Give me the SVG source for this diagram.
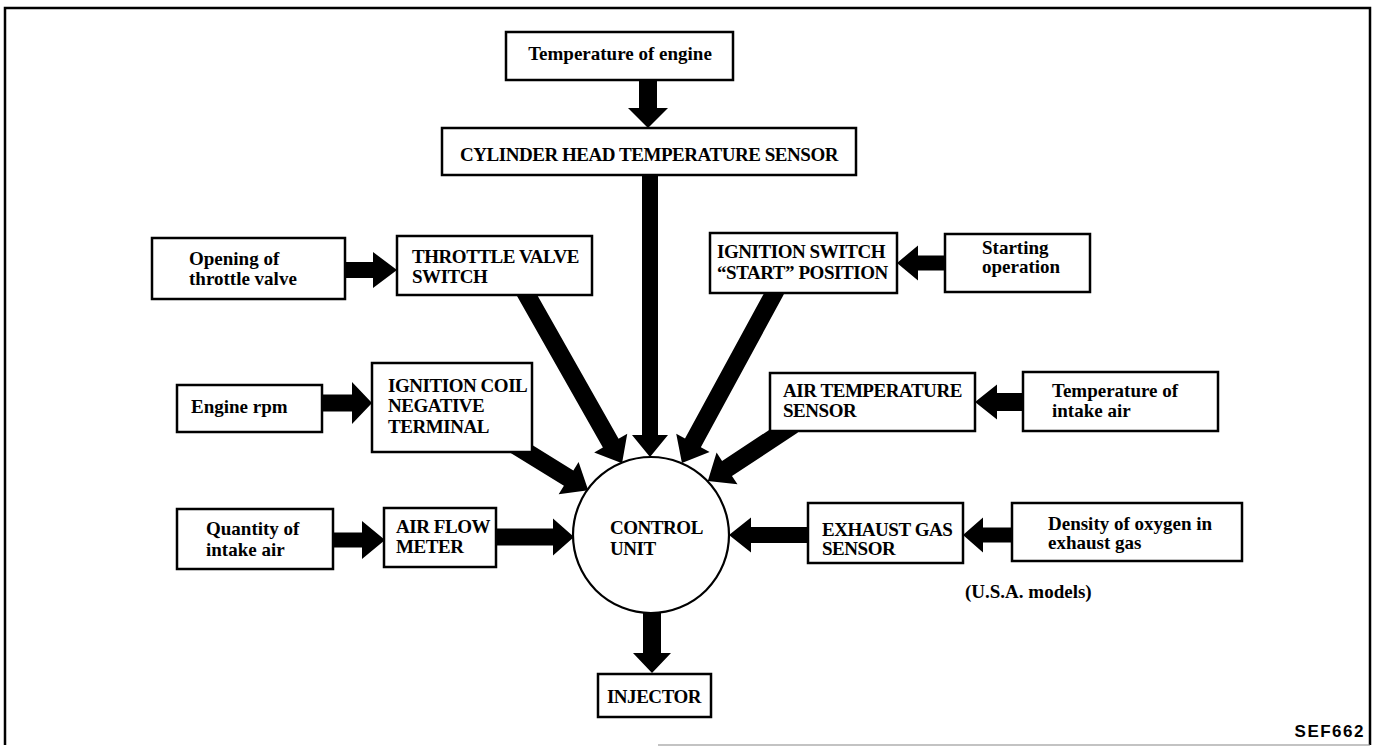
<svg xmlns="http://www.w3.org/2000/svg" width="1377" height="748" viewBox="0 0 1377 748">
  <style>
    .box { fill: #fff; stroke: #000; stroke-width: 2.5; }
    .unit { fill: #fff; stroke: #000; stroke-width: 2.2; }
    .arrow { fill: #000; }
    .t { font-family: "Liberation Serif", "Times New Roman", serif; font-weight: bold; font-size: 19px; fill: #000; }
    .cap { letter-spacing: -0.45px; }
    .c { text-anchor: middle; }
    .code { font-family: "Liberation Sans", Arial, sans-serif; font-weight: bold; font-size: 17px; letter-spacing: 1.5px; fill: #000; text-anchor: end; }
  </style>

  <!-- frame -->
  <g id="frame" fill="none">
    <path d="M5,745 V8 H1370 V745" stroke="#000" stroke-width="2.5"/>
    <path d="M658,745 H1370" stroke="#888" stroke-width="1.2"/>
  </g>

  <!-- thick block arrows -->
  <g id="connectors" class="arrow">
    <path transform="translate(648,80) rotate(90)" d="M0,-9 H28 V-20 L48,0 L28,20 V9 H0 Z"/>
    <path transform="translate(650,175) rotate(90)" d="M0,-8 H260 V-18 L282,0 L260,18 V8 H0 Z"/>
    <path transform="translate(345,270)" d="M0,-8 H28 V-18 L52,0 L28,18 V8 H0 Z"/>
    <path transform="translate(524,290) rotate(60.48)" d="M0,-9 H176 V-19 L199,0 L176,19 V9 H0 Z"/>
    <path transform="translate(322,403)" d="M0,-8.5 H30 V-21 L50,0 L30,21 V8.5 H0 Z"/>
    <path transform="translate(515,445) rotate(31.65)" d="M0,-9 H63 V-19 L86,0 L63,19 V9 H0 Z"/>
    <path transform="translate(945,263) rotate(180)" d="M0,-7.5 H27 V-17.5 L48,0 L27,17.5 V7.5 H0 Z"/>
    <path transform="translate(776,290) rotate(118.52)" d="M0,-9 H174 V-19 L197,0 L174,19 V9 H0 Z"/>
    <path transform="translate(1023,402) rotate(180)" d="M0,-9 H26 V-17.5 L48,0 L26,17.5 V9 H0 Z"/>
    <path transform="translate(793,425) rotate(146.62)" d="M0,-9 H79 V-19 L102,0 L79,19 V9 H0 Z"/>
    <path transform="translate(333,540)" d="M0,-7.5 H29 V-19 L52,0 L29,19 V7.5 H0 Z"/>
    <path transform="translate(496,537)" d="M0,-8.5 H57 V-18.5 L78,0 L57,18.5 V8.5 H0 Z"/>
    <path transform="translate(1012,535) rotate(180)" d="M0,-7.5 H29 V-17.5 L49,0 L29,17.5 V7.5 H0 Z"/>
    <path transform="translate(808,535) rotate(180)" d="M0,-8 H57 V-17.5 L79,0 L57,17.5 V8 H0 Z"/>
    <path transform="translate(652,610) rotate(90)" d="M0,-9 H43 V-19 L63,0 L43,19 V9 H0 Z"/>
  </g>

  <g id="engine-temp">
    <rect class="box" x="506" y="32" width="227" height="48"/>
    <text class="t c" x="620" y="60">Temperature of engine</text>
  </g>

  <g id="cyl-head-sensor">
    <rect class="box" x="442" y="128" width="414" height="47"/>
    <text class="t cap c" x="649" y="161">CYLINDER HEAD TEMPERATURE SENSOR</text>
  </g>

  <g id="throttle-opening">
    <rect class="box" x="152" y="238" width="193" height="61"/>
    <text class="t" x="189" y="265">Opening of</text>
    <text class="t" x="189" y="285">throttle valve</text>
  </g>

  <g id="throttle-switch">
    <rect class="box" x="397" y="236" width="195" height="59"/>
    <text class="t cap" x="412" y="263">THROTTLE VALVE</text>
    <text class="t cap" x="412" y="283">SWITCH</text>
  </g>

  <g id="engine-rpm">
    <rect class="box" x="177" y="385" width="145" height="47"/>
    <text class="t" x="191" y="413">Engine rpm</text>
  </g>

  <g id="ignition-coil">
    <rect class="box" x="372" y="363" width="160" height="89"/>
    <text class="t cap" x="388" y="392">IGNITION COIL</text>
    <text class="t cap" x="388" y="412">NEGATIVE</text>
    <text class="t cap" x="388" y="433">TERMINAL</text>
  </g>

  <g id="intake-quantity">
    <rect class="box" x="177" y="509" width="156" height="60"/>
    <text class="t" x="206" y="535">Quantity of</text>
    <text class="t" x="206" y="556">intake air</text>
  </g>

  <g id="air-flow-meter">
    <rect class="box" x="384" y="508" width="112" height="59"/>
    <text class="t cap" x="396" y="533">AIR FLOW</text>
    <text class="t cap" x="396" y="553">METER</text>
  </g>

  <g id="control-unit">
    <circle class="unit" cx="651" cy="535" r="78"/>
    <text class="t cap" x="610" y="534">CONTROL</text>
    <text class="t cap" x="610" y="555">UNIT</text>
  </g>

  <g id="injector">
    <rect class="box" x="598" y="674" width="113" height="43"/>
    <text class="t cap c" x="654" y="703">INJECTOR</text>
  </g>

  <g id="ignition-switch">
    <rect class="box" x="710" y="233" width="187" height="60"/>
    <text class="t cap" x="717" y="258">IGNITION SWITCH</text>
    <text class="t cap" x="717" y="279">“START” POSITION</text>
  </g>

  <g id="starting-operation">
    <rect class="box" x="945" y="234" width="145" height="58"/>
    <text class="t" x="982" y="254">Starting</text>
    <text class="t" x="982" y="273">operation</text>
  </g>

  <g id="air-temp-sensor">
    <rect class="box" x="770" y="373" width="205" height="58"/>
    <text class="t cap" x="783" y="397">AIR TEMPERATURE</text>
    <text class="t cap" x="783" y="417">SENSOR</text>
  </g>

  <g id="intake-temp">
    <rect class="box" x="1023" y="372" width="195" height="59"/>
    <text class="t" x="1052" y="397">Temperature of</text>
    <text class="t" x="1052" y="417">intake air</text>
  </g>

  <g id="exhaust-sensor">
    <rect class="box" x="808" y="503" width="155" height="60"/>
    <text class="t cap" x="822" y="536">EXHAUST GAS</text>
    <text class="t cap" x="822" y="555">SENSOR</text>
  </g>

  <g id="oxygen-density">
    <rect class="box" x="1012" y="503" width="230" height="58"/>
    <text class="t" x="1048" y="530">Density of oxygen in</text>
    <text class="t" x="1048" y="549">exhaust gas</text>
  </g>

  <text class="t" x="965" y="598">(U.S.A. models)</text>
  <text class="code" x="1365" y="737">SEF662</text>
</svg>
